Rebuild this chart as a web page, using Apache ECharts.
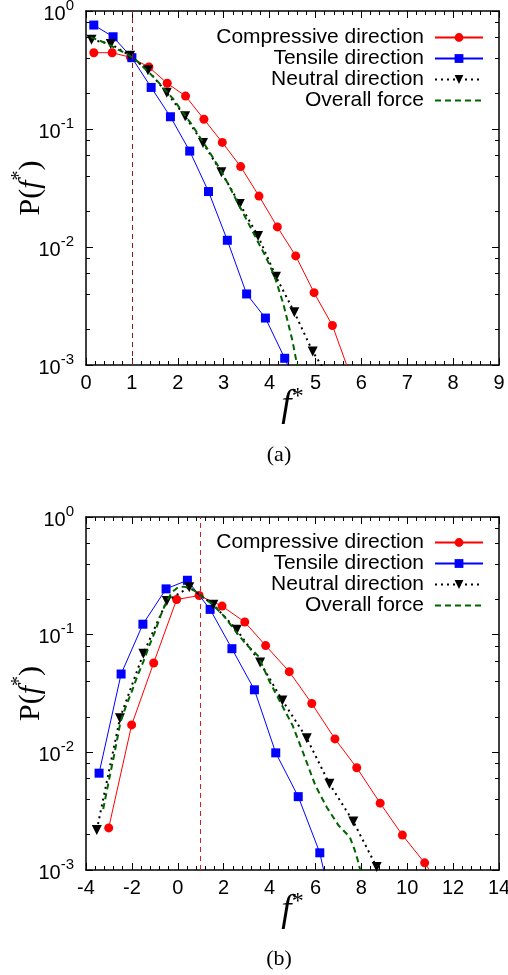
<!DOCTYPE html>
<html><head><meta charset="utf-8">
<script src="https://cdn.jsdelivr.net/npm/echarts@6/dist/echarts.min.js"></script>
<style>html,body{margin:0;padding:0;background:#fff}#c{width:508px;height:975px}</style>
</head><body><div id="c"></div>
<script>
// ---------- data: panel (a) ----------
const seriesNames = ['Compressive direction', 'Tensile direction', 'Neutral direction', 'Overall force'];
const compTopX = [0.17,0.57,0.97,1.37,1.77,2.17,2.57,2.97,3.37,3.77,4.17,4.57,4.97,5.37,5.77];
const compTopY = [0.443,0.443,0.405,0.335,0.244,0.190,0.121,0.077,0.048,0.027,0.0148,0.0084,0.0041,0.00216,0.0008];
const tensTopX = [0.17,0.59,1.0,1.42,1.84,2.26,2.67,3.08,3.5,3.91,4.33,4.74];
const tensTopY = [0.76,0.605,0.402,0.225,0.127,0.065,0.0295,0.0114,0.0040,0.0025,0.00114,0.0005];
const neutTopX = [0.12,0.54,0.96,1.35,1.76,2.16,2.55,2.95,3.35,3.75,4.14,4.54,4.94,5.34];
const neutTopY = [0.571,0.525,0.418,0.314,0.203,0.128,0.076,0.043,0.0231,0.0124,0.0056,0.0028,0.0013,0.00074];
const overTopX = [0.1,0.3,0.5,0.7,0.9,1.1,1.3,1.5,1.7,1.9,2.1,2.3,2.5,2.7,2.9,3.1,3.3,3.5,3.7,3.9,4.1,4.3,4.5,4.6,4.7];
const overTopY = [0.60,0.56,0.52,0.47,0.43,0.38,0.32,0.27,0.22,0.18,0.14,0.11,0.083,0.063,0.047,0.034,0.024,0.017,0.012,0.0085,0.0058,0.0033,0.0016,0.001,0.0006];
// ---------- data: panel (b) ----------
const compBotX = [-3.01,-2.01,-1.05,-0.05,0.93,1.93,2.92,3.83,4.86,5.84,6.85,7.8,8.82,9.79,10.76,11.73];
const compBotY = [0.00228,0.0171,0.0575,0.199,0.215,0.175,0.128,0.0807,0.0485,0.026,0.013,0.0074,0.0037,0.00198,0.00115,0.0006];
const tensBotX = [-3.43,-2.47,-1.52,-0.51,0.42,1.41,2.36,3.34,4.27,5.25,6.19,7.15];
const tensBotY = [0.00665,0.0463,0.1227,0.245,0.29,0.164,0.076,0.034,0.0099,0.0042,0.0014,0.0002];
const neutBotX = [-3.53,-2.52,-1.5,-0.48,0.5,1.55,2.57,3.59,4.56,5.62,6.61,7.65,8.67,9.69];
const neutBotY = [0.00219,0.0195,0.069,0.193,0.253,0.18,0.11,0.058,0.0276,0.0132,0.0054,0.00258,0.00106,0.0004];
const overBotX = [-3.25,-3.0,-2.75,-2.5,-2.25,-2.0,-1.75,-1.5,-1.25,-1.0,-0.75,-0.5,-0.25,0,0.25,0.5,0.75,1.0,1.5,2.0,2.5,3.0,3.5,4.0,4.5,5.0,5.5,6.0,6.5,7.0,7.5,7.7,7.85,7.95,8.1];
const overBotY = [0.0033,0.0058,0.010,0.018,0.025,0.033,0.045,0.059,0.08,0.105,0.145,0.19,0.23,0.252,0.256,0.25,0.235,0.215,0.182,0.145,0.108,0.082,0.066,0.04,0.026,0.017,0.0095,0.0052,0.0034,0.0024,0.0019,0.0015,0.0012,0.001,0.0006];
// ---------- axes / reference ----------
const topXRange = [0, 9, 1];
const botXRange = [-4, 14, 2];
const yRange = [0.001, 1];
const yMinorTicks = [0.002,0.004,0.006,0.008,0.02,0.04,0.06,0.08,0.2,0.4,0.6,0.8];
const refLineX = 1;
const panelLabels = ['(a)', '(b)'];

const zip = (xs, ys) => xs.map((x, i) => [x, ys[i]]);
const SANS = 'Liberation Sans';
const SERIF = 'Liberation Serif';
const black = '#000';

function xAxes(gi, r) {
  const base = {
    type: 'value', gridIndex: gi, min: r[0], max: r[1], interval: r[2],
    axisLine: { show: true, onZero: false, lineStyle: { color: black, width: 1.5 } },
    axisTick: { show: true, inside: true, length: 7, lineStyle: { color: black, width: 1 } },
    minorTick: { show: true, splitNumber: 5, length: 4, lineStyle: { color: black, width: 1 } },
    splitLine: { show: false }
  };
  return [
    Object.assign({}, base, {
      position: 'bottom',
      axisLabel: { show: true, color: black, fontSize: 20, fontFamily: SANS, margin: 8, showMinLabel: true, showMaxLabel: true },
      name: '{f|f}{s|*}', nameLocation: 'middle', nameGap: 20, nameMoveOverlap: false,
      nameTextStyle: { rich: {
        f: { fontFamily: SERIF, fontStyle: 'italic', fontSize: 37, color: black, verticalAlign: 'bottom', lineHeight: 40 },
        s: { fontFamily: SERIF, fontSize: 24, color: black, verticalAlign: 'top', lineHeight: 40 }
      } }
    }),
    Object.assign({}, base, { position: 'top', axisLabel: { show: false } })
  ];
}

function yAxes(gi) {
  const line = { show: true, onZero: false, lineStyle: { color: black, width: 1.5 } };
  const major = {
    type: 'log', logBase: 10, gridIndex: gi, min: yRange[0], max: yRange[1],
    axisTick: { show: true, inside: true, length: 7, lineStyle: { color: black, width: 1 } },
    splitLine: { show: false }, minorTick: { show: false }
  };
  const minor = {
    type: 'log', logBase: 10, gridIndex: gi, min: yRange[0], max: yRange[1],
    axisLine: { show: false, onZero: false },
    axisTick: { show: true, inside: true, length: 4, customValues: yMinorTicks, lineStyle: { color: black, width: 1 } },
    axisLabel: { show: false }, splitLine: { show: false }
  };
  return [
    Object.assign({}, major, {
      position: 'left', axisLine: line,
      axisLabel: {
        show: true, margin: 12,
        formatter: v => '{b|10}{s|' + Math.round(Math.log10(v)) + '}',
        rich: {
          b: { fontFamily: SANS, fontSize: 20, color: black, verticalAlign: 'bottom', lineHeight: 26 },
          s: { fontFamily: SANS, fontSize: 15, color: black, verticalAlign: 'top', lineHeight: 26 }
        }
      },
      name: '{p|P(}{f|f}{s|*}{p|)}', nameLocation: 'middle', nameGap: 40, nameRotate: 90, nameMoveOverlap: false,
      nameTextStyle: { rich: {
        p: { fontFamily: SERIF, fontSize: 30, color: black, verticalAlign: 'bottom', lineHeight: 36 },
        f: { fontFamily: SERIF, fontStyle: 'italic', fontSize: 30, color: black, verticalAlign: 'bottom', lineHeight: 36 },
        s: { fontFamily: SERIF, fontSize: 20, color: black, verticalAlign: 'top', lineHeight: 36 }
      } }
    }),
    Object.assign({}, major, { position: 'right', axisLine: line, axisLabel: { show: false } }),
    Object.assign({}, minor, { position: 'left' }),
    Object.assign({}, minor, { position: 'right' })
  ];
}

function panelSeries(gi, comp, tens, neut, over, refColor) {
  const xi = gi * 2, yi = gi * 4;
  return [
    { name: seriesNames[0], type: 'line', xAxisIndex: xi, yAxisIndex: yi, data: comp,
      symbol: 'circle', symbolSize: 9, color: '#ff0000', lineStyle: { color: '#ff0000', width: 1 },
      itemStyle: { color: '#ff0000' }, clip: true, z: 2,
      markLine: { silent: true, symbol: 'none', label: { show: false },
        lineStyle: { color: refColor, type: [5, 4], width: 1 }, data: [{ xAxis: refLineX }] } },
    { name: seriesNames[1], type: 'line', xAxisIndex: xi, yAxisIndex: yi, data: tens,
      symbol: 'rect', symbolSize: 9, color: '#0000ff', lineStyle: { color: '#0000ff', width: 1 },
      itemStyle: { color: '#0000ff' }, clip: true, z: 3 },
    { name: seriesNames[2], type: 'line', xAxisIndex: xi, yAxisIndex: yi, data: neut,
      symbol: 'triangle', symbolRotate: 180, symbolSize: 10, color: black,
      lineStyle: { color: black, width: 2, type: [2, 4] },
      itemStyle: { color: black }, clip: true, z: 4 },
    { name: seriesNames[3], type: 'line', xAxisIndex: xi, yAxisIndex: yi, data: over,
      symbol: 'none', showSymbol: false, color: '#006400',
      lineStyle: { color: '#006400', width: 2, type: [6, 4] }, clip: true, z: 5 }
  ];
}

function legendFor(top) {
  return {
    orient: 'vertical', right: 19, top: top, align: 'right', itemGap: 0,
    itemWidth: 48, itemHeight: 11, selectedMode: false,
    data: [seriesNames[0], seriesNames[1], seriesNames[2],
      { name: seriesNames[3], itemStyle: { opacity: 0 } }],
    textStyle: { fontFamily: SANS, fontSize: 21, color: black, lineHeight: 21, padding: [0, 6, 0, 0] }
  };
}

const chart = echarts.init(document.getElementById('c'), null, { renderer: 'canvas' });
chart.setOption({
  animation: false,
  backgroundColor: '#fff',
  grid: [
    { left: 86, right: 9, top: 11, height: 354, outerBoundsMode: 'none', containLabel: false },
    { left: 86, right: 9, top: 517, height: 353, outerBoundsMode: 'none', containLabel: false }
  ],
  legend: [legendFor(22), legendFor(527)],
  xAxis: xAxes(0, topXRange).concat(xAxes(1, botXRange)),
  yAxis: yAxes(0).concat(yAxes(1)),
  series: panelSeries(0, zip(compTopX, compTopY), zip(tensTopX, tensTopY), zip(neutTopX, neutTopY), zip(overTopX, overTopY), '#8b1a1a')
    .concat(panelSeries(1, zip(compBotX, compBotY), zip(tensBotX, tensBotY), zip(neutBotX, neutBotY), zip(overBotX, overBotY), '#d42020')),
  graphic: [
    { type: 'text', x: 279, y: 455, style: { text: panelLabels[0], font: '22px "Liberation Serif"', fill: black, textAlign: 'center', textVerticalAlign: 'middle' } },
    { type: 'text', x: 279, y: 959, style: { text: panelLabels[1], font: '22px "Liberation Serif"', fill: black, textAlign: 'center', textVerticalAlign: 'middle' } }
  ]
});
</script></body></html>
